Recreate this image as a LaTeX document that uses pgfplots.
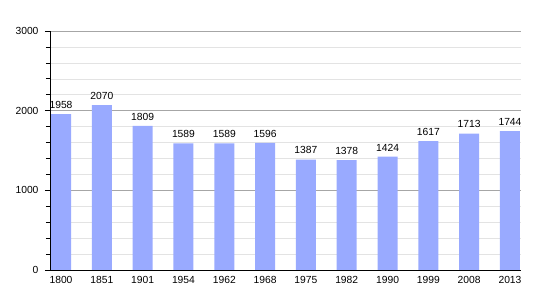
\documentclass[border=0pt]{standalone}
\usepackage{pgfplots}
\pgfplotsset{compat=1.18}
\usepackage{fontspec}
\setmainfont{Liberation Sans}
\definecolor{barc}{RGB}{153,170,255}
\begin{document}
\begin{tikzpicture}[x=1pt,y=1pt]
\useasboundingbox (0,0) rectangle (550,300);
\begin{axis}[
  at={(50pt,30pt)}, anchor=south west,
  scale only axis, width=471pt, height=239pt,
  xmin=-0.27, xmax=11.27, ymin=0, ymax=3000,
  axis x line*=bottom, axis y line*=left,
  axis line style={black, line width=0.8pt, -},
  xtick=data,
  xticklabels={1800,1851,1901,1954,1962,1968,1975,1982,1990,1999,2008,2013},
  x tick style={draw=none},
  ytick={0,1000,2000,3000},
  minor y tick num=4,
  y tick style={black, line width=0.6pt},
  tick align=outside,
  major tick length=5pt, minor tick length=4pt,
  ymajorgrids, yminorgrids,
  major grid style={gray!70, line width=0.6pt},
  minor grid style={gray!22, line width=0.5pt},
  tick label style={font=\fontsize{10.3}{12}\selectfont},
  yticklabel style={xshift=-3pt},
  xticklabel style={yshift=2pt},
  /pgf/number format/assume math mode=true,
  /pgf/number format/1000 sep={},
  nodes near coords,
  every node near coord/.append style={font=\fontsize{10.3}{12}\selectfont, yshift=2pt},
]
\addplot[ybar, bar width=0.49, fill=barc, draw=none] coordinates {
(0,1958) (1,2070) (2,1809) (3,1589) (4,1589) (5,1596) (6,1387) (7,1378) (8,1424) (9,1617) (10,1713) (11,1744)};
\end{axis}
\end{tikzpicture}
\end{document}
